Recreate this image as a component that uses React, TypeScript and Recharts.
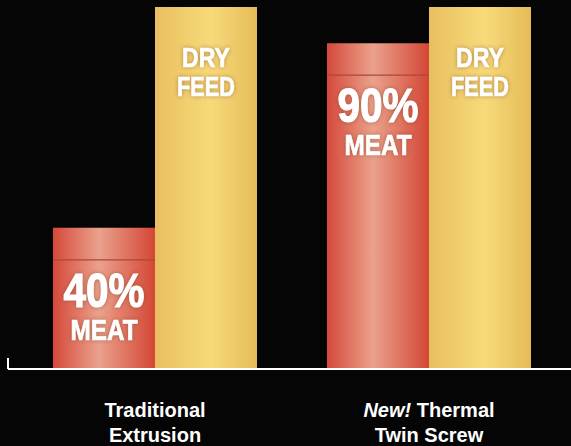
import { BarChart, Bar, XAxis, YAxis, LabelList } from "recharts";

// chart values
const categories = ["Traditional Extrusion", "New! Thermal Twin Screw"];
const meatShare = [39, 90];
const dryFeed = [100, 100];
const meatLabels = ["40%", "90%"];
const dryFeedLines = ["DRY", "FEED"];

const data = categories.map((name, i) => ({
  name,
  meat: meatShare[i],
  dryFeed: dryFeed[i],
}));

const FONT = "'Liberation Sans', Arial, sans-serif";
const glow = { filter: "drop-shadow(0 0 2px rgba(110, 50, 20, 0.45))" };

function CategoryTick(props: any) {
  const { x, y, index } = props;
  const line1 =
    index === 1 ? (
      <>
        <tspan fontStyle="italic">New!</tspan>
        <tspan> Thermal</tspan>
      </>
    ) : (
      "Traditional"
    );
  const line2 = index === 1 ? "Twin Screw" : "Extrusion";
  return (
    <g>
      <text x={x} y={y + 40} textAnchor="middle" fill="#fff" fontFamily={FONT} fontWeight="bold" fontSize={20}>
        {line1}
      </text>
      <text x={x} y={y + 65} textAnchor="middle" fill="#fff" fontFamily={FONT} fontWeight="bold" fontSize={20}>
        {line2}
      </text>
    </g>
  );
}

// bold, narrowed text to imitate a condensed face
function Condensed({ x, y, size, len, children }: any) {
  return (
    <text
      x={x}
      y={y}
      textAnchor="middle"
      fill="#fff"
      stroke="#fff"
      strokeWidth={size / 40}
      fontFamily={FONT}
      fontWeight="bold"
      fontSize={size}
      textLength={len}
      lengthAdjust="spacingAndGlyphs"
      style={glow}
    >
      {children}
    </text>
  );
}

function MeatLabel(props: any) {
  const { x, y, width, index } = props;
  const cx = x + width / 2;
  return (
    <g>
      <line x1={x} x2={x + width} y1={y + 32} y2={y + 32} stroke="#a8483a" strokeWidth={1.2} />
      <Condensed x={cx} y={y + 79} size={48} len={81}>
        {meatLabels[index]}
      </Condensed>
      <Condensed x={cx} y={y + 112} size={29} len={67}>
        MEAT
      </Condensed>
    </g>
  );
}

function DryFeedLabel(props: any) {
  const { x, y, width } = props;
  const cx = x + width / 2;
  return (
    <g>
      {dryFeedLines.map((t, i) => (
        <Condensed key={t} x={cx} y={y + 60 + i * 29} size={28} len={i === 0 ? 48 : 58}>
          {t}
        </Condensed>
      ))}
    </g>
  );
}

export default function App() {
  return (
    <div style={{ width: 571, height: 446, background: "#050505" }}>
      <style>{`body{margin:0;background:#050505}`}</style>
      <BarChart
        width={571}
        height={446}
        data={data}
        margin={{ top: 7, right: 0, left: 7, bottom: 0 }}
        barGap={0}
      >
        <defs>
          <linearGradient id="meatFill" x1="0" y1="0" x2="1" y2="0">
            <stop offset="0%" stopColor="#d6483a" />
            <stop offset="45%" stopColor="#eaa28c" />
            <stop offset="100%" stopColor="#d54636" />
          </linearGradient>
          <linearGradient id="feedFill" x1="0" y1="0" x2="1" y2="0">
            <stop offset="0%" stopColor="#e8bf60" />
            <stop offset="55%" stopColor="#f8da7a" />
            <stop offset="100%" stopColor="#e6bb58" />
          </linearGradient>
        </defs>
        <XAxis
          dataKey="name"
          height={77}
          axisLine={{ stroke: "#fff", strokeWidth: 2 }}
          tickLine={false}
          padding={{ left: 10, right: 5 }}
          tick={<CategoryTick />}
          interval={0}
        />
        <YAxis
          domain={[0, 100]}
          width={1}
          tick={false}
          tickLine={false}
          axisLine={{ stroke: "#fff", strokeWidth: 2, strokeDasharray: "0 351 12 100" }}
        />
        <Bar dataKey="meat" barSize={102} fill="url(#meatFill)" isAnimationActive={false}>
          <LabelList dataKey="meat" content={<MeatLabel />} />
        </Bar>
        <Bar dataKey="dryFeed" barSize={102} fill="url(#feedFill)" isAnimationActive={false}>
          <LabelList dataKey="dryFeed" content={<DryFeedLabel />} />
        </Bar>
      </BarChart>
    </div>
  );
}
